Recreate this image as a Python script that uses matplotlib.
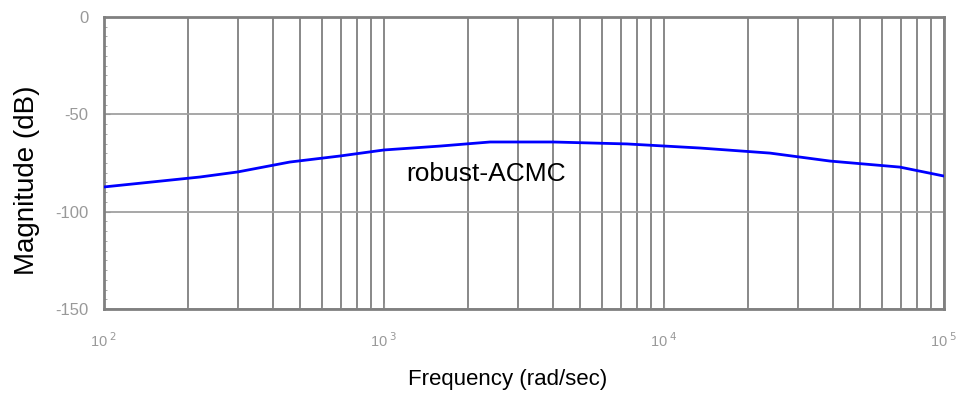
import numpy as np
import matplotlib.pyplot as plt
from matplotlib.ticker import LogLocator, MultipleLocator, NullFormatter

plt.rcParams['font.family'] = ['Liberation Sans', 'DejaVu Sans']
plt.rcParams['axes.unicode_minus'] = False

# frequency response
freq = [100, 220, 300, 461, 696, 1000, 1585, 2393, 4018, 7380,
        13450, 23900, 39200, 69600, 100000]
mag_db = [-87.3, -82.2, -79.6, -74.5, -71.4, -68.3, -66.3, -64.2, -64.2, -65.2,
          -67.3, -69.9, -74.0, -77.1, -81.7]

xticks = [1e2, 1e3, 1e4, 1e5]
xtick_labels = ['10$^{\\ 2}$', '10$^{\\ 3}$', '10$^{\\ 4}$', '10$^{\\ 5}$']
yticks = [0, -50, -100, -150]

fig = plt.figure(figsize=(9.6, 3.96), dpi=100)
ax = fig.add_axes([0.1083, 0.2197, 0.875, 0.7373])

ax.semilogx(freq, mag_db, color='#0000ff', lw=2, zorder=3)
ax.set_xlim(1e2, 1e5)
ax.set_ylim(-150, 0)

# grid: vertical lines at every subdecade, horizontal at majors
ax.xaxis.set_minor_locator(LogLocator(base=10, subs=np.arange(2, 10)))
ax.xaxis.set_minor_formatter(NullFormatter())
ax.grid(True, which='minor', axis='x', color='#7f7f7f', lw=1.3)
ax.grid(True, which='major', axis='x', color='#7f7f7f', lw=1.3)
ax.grid(True, which='major', axis='y', color='#a0a0a0', lw=1.3)

ax.set_xticks(xticks)
ax.set_xticklabels(xtick_labels)
ax.set_yticks(yticks)
ax.yaxis.set_minor_locator(MultipleLocator(5))

ax.tick_params(axis='both', which='major', direction='in', colors='#999999', length=4)
ax.tick_params(axis='x', which='major', pad=16, labelsize=10.5)
ax.tick_params(axis='y', which='major', pad=11, labelsize=12)
ax.tick_params(axis='both', which='minor', direction='in', color='#999999', length=2)

for s in ax.spines.values():
    s.set_color('#808080')
    s.set_linewidth(2)

ax.text(1200, -80.5, 'robust-ACMC', fontsize=19, va='center', ha='left')

ax.set_xlabel('Frequency (rad/sec)', fontsize=16)
ax.set_ylabel('Magnitude (dB)', fontsize=20)
ax.xaxis.set_label_coords(0.481, -0.205)
ax.yaxis.set_label_coords(-0.076, 0.44)

fig.savefig('out.png', dpi=100)
